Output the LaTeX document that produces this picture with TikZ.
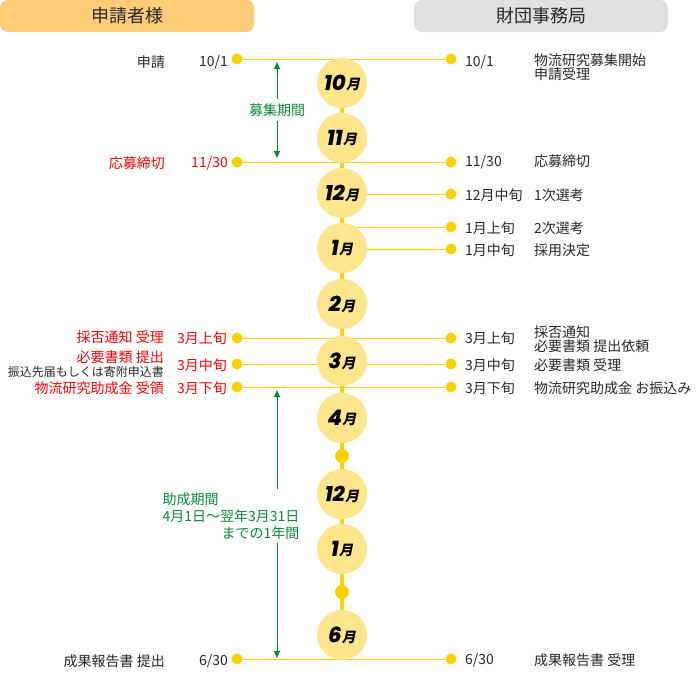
\documentclass[tikz,border=0pt]{standalone}
\usepackage{fontspec}
\setmainfont{Noto Sans CJK JP}
\newfontfamily\monthfont{Poppins}[FakeBold=0.8]
\newfontfamily\monthkanji{Noto Sans CJK JP}[FakeSlant=0.2]
\usepackage{xcolor}
\usetikzlibrary{arrows.meta,backgrounds,positioning}

\definecolor{gold}{RGB}{255,208,0}
\definecolor{paleyellow}{RGB}{255,230,140}
\definecolor{headorange}{RGB}{255,204,119}
\definecolor{headgray}{RGB}{224,224,224}
\definecolor{periodgreen}{RGB}{10,138,50}
\definecolor{inkgray}{RGB}{40,40,40}

\newcommand{\monthlabel}[1]{{\monthfont\bfseries\itshape\fontsize{21}{21}\selectfont #1}\kern0.5pt{\monthkanji\bfseries\fontsize{14}{14}\selectfont 月}}

\begin{document}
\begin{tikzpicture}[x=1pt,y=-1pt,
    every node/.style={font=\fontsize{14}{14}\selectfont, text=inkgray},
    header/.style={rounded corners=8pt, minimum width=254pt, minimum height=32pt, inner sep=0pt, font=\fontsize{18}{18}\selectfont},
    month/.style={circle, fill=paleyellow, minimum size=50pt, inner sep=0pt, text=black},
    dot/.style={circle, fill=gold, minimum size=11pt, inner sep=0pt},
    knot/.style={circle, fill=gold, minimum size=14pt, inner sep=0pt},
    link/.style={gold, line width=1pt},
    spine/.style={gold, line width=4pt},
    period/.style={periodgreen, line width=1pt, {Triangle[width=6pt,length=7pt]}-{Triangle[width=6pt,length=7pt]}},
    lab/.style={anchor=east, inner sep=0pt},
    rlab/.style={anchor=west, inner sep=0pt},
    alert/.style={text=red}]
    \useasboundingbox (0,0) rectangle (700,680);

    % headers
    \node[header, fill=headorange] (applicant) at (127,16) {申請者様};
    \node[header, fill=headgray] (office) at (541,16) {財団事務局};

    % months
    \coordinate (top) at (342,59);
    \coordinate (bot) at (342,659);
    \node[month] (m10) at (342,83) {\monthlabel{10}};
    \node[month] (m11) at (342,138) {\monthlabel{11}};
    \node[month] (m12) at (342,193) {\monthlabel{12}};
    \node[month] (m1) at (342,248) {\monthlabel{1}};
    \node[month] (m2) at (342,304) {\monthlabel{2}};
    \node[month] (m3) at (342,361) {\monthlabel{3}};
    \node[month] (m4) at (342,418) {\monthlabel{4}};
    \node[knot] (k1) at (342,456) {};
    \node[month] (m12b) at (342,494) {\monthlabel{12}};
    \node[month] (m1b) at (342,549) {\monthlabel{1}};
    \node[knot] (k2) at (342,592) {};
    \node[month] (m6) at (342,635) {\monthlabel{6}};

    % dots
    \node[dot] (l1) at (237,59) {};  \node[dot] (r1) at (451,59) {};
    \node[dot] (l2) at (237,162) {}; \node[dot] (r2) at (451,162) {};
    \node[dot] (r3) at (451,194) {};
    \node[dot] (r4) at (451,227) {};
    \node[dot] (r5) at (451,249) {};
    \node[dot] (l6) at (237,338) {}; \node[dot] (r6) at (451,338) {};
    \node[dot] (l7) at (237,364) {}; \node[dot] (r7) at (451,364) {};
    \node[dot] (l8) at (237,387) {}; \node[dot] (r8) at (451,387) {};
    \node[dot] (l9) at (237,659) {}; \node[dot] (r9) at (451,659) {};

    \begin{scope}[on background layer]
      \draw[spine] (top) -- (bot);
      \foreach \i in {1,2,6,7,8,9} \draw[link] (l\i) -- (r\i);
      \foreach \i in {3,4,5} \draw[link] (r\i -| top) -- (r\i);
    \end{scope}

    % applicant side
    \node[lab] (a1) at (165,62) {申請};
    \node[lab] (d1) at (228,62) {10/1};
    \node[lab, alert] (a2) at (165,163) {応募締切};
    \node[lab, alert] (d2) at (228,163) {11/30};
    \node[lab, alert] (a6) at (164,337) {採否通知 受理};
    \node[lab, alert] (d6) at (227,338) {3月上旬};
    \node[lab, alert] (a7) at (164,357) {必要書類 提出};
    \node[lab, font=\fontsize{12}{12}\selectfont] (a7note) at (164,372) {振込先届もしくは寄附申込書};
    \node[lab, alert] (d7) at (227,365) {3月中旬};
    \node[lab, alert] (a8) at (164,388) {物流研究助成金 受領};
    \node[lab, alert] (d8) at (227,388) {3月下旬};
    \node[lab] (a9) at (165,661) {成果報告書 提出};
    \node[lab] (d9) at (228,661) {6/30};

    % office side
    \node[rlab] (e1) at (465,62) {10/1};
    \node[rlab, align=left] (f1) at (534,67) {物流研究募集開始\\申請受理};
    \node[rlab] (e2) at (465,162) {11/30};
    \node[rlab] (f2) at (534,161) {応募締切};
    \node[rlab] (e3) at (465,195) {12月中旬};
    \node[rlab] (f3) at (534,195) {1次選考};
    \node[rlab] (e4) at (465,228) {1月上旬};
    \node[rlab] (f4) at (534,228) {2次選考};
    \node[rlab] (e5) at (465,250) {1月中旬};
    \node[rlab] (f5) at (534,250) {採用決定};
    \node[rlab] (e6) at (465,338) {3月上旬};
    \node[rlab, align=left] (f6) at (534,339) {採否通知\\必要書類 提出依頼};
    \node[rlab] (e7) at (465,365) {3月中旬};
    \node[rlab] (f7) at (534,365) {必要書類 受理};
    \node[rlab] (e8) at (465,388) {3月下旬};
    \node[rlab] (f8) at (534,388) {物流研究助成金 お振込み};
    \node[rlab] (e9) at (465,660) {6/30};
    \node[rlab] (f9) at (534,660) {成果報告書 受理};

    % periods
    \coordinate (rs) at (277,62);
    \coordinate (re) at (277,158);
    \draw[period] (rs) -- (re) node[midway, fill=white, text=periodgreen, inner xsep=1pt, inner ysep=5pt] (recruit) {募集期間};
    \coordinate (gs) at (277,390);
    \coordinate (ge) at (277,658);
    \draw[period] (gs) -- (ge);
    \node[fill=white, text=periodgreen, align=left, inner xsep=0pt, inner ysep=4pt, font=\fontsize{14}{17}\selectfont] (grant) at (231,516) {助成期間\\4月1日～翌年3月31日\\\mbox{}\hfill までの1年間};
\end{tikzpicture}
\end{document}
